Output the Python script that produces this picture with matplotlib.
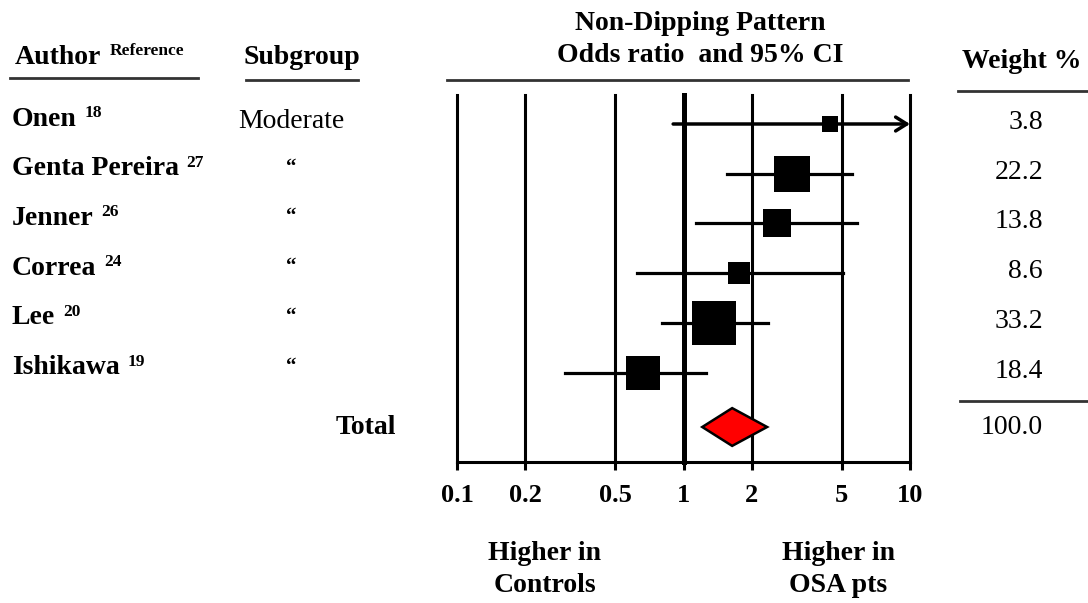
import numpy as np
import matplotlib
matplotlib.use('Agg')
from matplotlib import pyplot as plt
from matplotlib.transforms import blended_transform_factory
from matplotlib.patches import Polygon

# study data
authors = ['Onen', 'Genta Pereira', 'Jenner', 'Correa', 'Lee', 'Ishikawa']
refs = ['18', '27', '26', '24', '20', '19']
subgroups = ['Moderate', '\u201c', '\u201c', '\u201c', '\u201c', '\u201c']
odds = [4.45, 3.0, 2.58, 1.76, 1.37, 0.66]
ci_low = [0.90, 1.55, 1.13, 0.625, 0.80, 0.30]
ci_high = [12.0, 5.55, 5.85, 5.05, 2.37, 1.26]
weights = [3.8, 22.2, 13.8, 8.6, 33.2, 18.4]
total_or = 1.64
total_low = 1.21
total_high = 2.34
total_weight = 100.0
xticks = [0.1, 0.2, 0.5, 1, 2, 5, 10]
xticklabels = ['0.1', '0.2', '0.5', '1', '2', '5', '10']

W, H = 1088, 603
fig = plt.figure(figsize=(W / 100, H / 100), dpi=100)
plt.rcParams['font.family'] = ['Liberation Serif', 'DejaVu Serif']

# forest axes placed in pixels: x 457..910, y 95..462
ax = fig.add_axes([457 / W, (H - 462) / H, (910 - 457) / W, (462 - 95) / H])
ax.set_xscale('log')
ax.set_xlim(0.1, 10)
row0, step = 124.0, 49.7
ax.set_ylim((462 - row0) / step, (95 - row0) / step)
for s in ['top', 'left', 'right']:
    ax.spines[s].set_visible(False)
ax.spines['bottom'].set_linewidth(2.2)
ax.set_yticks([])
ax.set_xticks(xticks)
ax.set_xticklabels(xticklabels, fontsize=19, fontweight='bold')
ax.minorticks_off()
ax.tick_params(axis='x', direction='out', length=6, width=2.2, pad=10)
for v in xticks:
    ax.axvline(v, color='black', lw=3.6 if v == 1 else 2.2, zorder=1, clip_on=False)

# per-study squares and CI lines
for i in range(len(authors)):
    if ci_high[i] > 10:
        ax.annotate('', xy=(10, i), xytext=(ci_low[i], i),
                    arrowprops=dict(arrowstyle='->,head_length=0.8,head_width=0.5',
                                    lw=2.5, color='black', shrinkA=0, shrinkB=0),
                    zorder=2, annotation_clip=False)
    else:
        ax.plot([ci_low[i], ci_high[i]], [i, i], color='black', lw=2.3, zorder=2)
    side = 7.8 * np.sqrt(weights[i])
    ax.plot(odds[i], i, marker='s', color='black', markersize=side * 0.72,
            markeredgewidth=0, zorder=3)

total_row = (427 - row0) / step
dh = 0.38
diamond = Polygon([[total_low, total_row], [total_or, total_row - dh],
                   [total_high, total_row], [total_or, total_row + dh]],
                  closed=True, facecolor='red', edgecolor='black', lw=1.8, zorder=3)
ax.add_patch(diamond)

# text columns
tr = blended_transform_factory(fig.transFigure, ax.transData)
fs = 20
for i in range(len(authors)):
    t = fig.text(12 / W, i - 0.1, authors[i], transform=tr, fontsize=fs,
                 fontweight='bold', va='center', ha='left')
    ax.annotate(refs[i], xy=(1, 0.42), xycoords=t, xytext=(5.5, 0),
                textcoords='offset points', fontsize=12.5, fontweight='bold',
                va='bottom', ha='left', annotation_clip=False)
    if subgroups[i] == 'Moderate':
        fig.text(291 / W, i - 0.06, subgroups[i], transform=tr, fontsize=fs,
                 va='center', ha='center')
    else:
        fig.text(291 / W, i - 0.12, subgroups[i], transform=tr, fontsize=15,
                 fontweight='bold', va='center', ha='center')
    fig.text(1043 / W, i - 0.03, '%.1f' % weights[i], transform=tr, fontsize=fs,
             va='center', ha='right')

fig.text(366 / W, total_row, 'Total', transform=tr, fontsize=fs,
         fontweight='bold', va='center', ha='center')
fig.text(1043 / W, total_row, '%.1f' % total_weight, transform=tr, fontsize=fs,
         va='center', ha='right')

# headers
def px(x, y):
    return x / W, 1 - y / H

fig.text(*px(15, 57), 'Author', fontsize=fs, fontweight='bold', va='center', ha='left')
fig.text(*px(110, 51), 'Reference', fontsize=12.5, fontweight='bold', va='center', ha='left')
fig.text(*px(302, 57), 'Subgroup', fontsize=fs, fontweight='bold', va='center', ha='center')
fig.text(*px(700, 23), 'Non-Dipping Pattern', fontsize=fs, fontweight='bold',
         va='center', ha='center')
fig.text(*px(700, 56), 'Odds ratio  and 95% CI', fontsize=fs, fontweight='bold',
         va='center', ha='center')
fig.text(*px(962, 62), 'Weight %', fontsize=fs, fontweight='bold', va='center', ha='left')
fig.text(*px(545, 553), 'Higher in', fontsize=fs, fontweight='bold', va='center', ha='center')
fig.text(*px(545, 585), 'Controls', fontsize=fs, fontweight='bold', va='center', ha='center')
fig.text(*px(838, 553), 'Higher in', fontsize=fs, fontweight='bold', va='center', ha='center')
fig.text(*px(838, 585), 'OSA pts', fontsize=fs, fontweight='bold', va='center', ha='center')

# rules
def hline(x0, x1, y, lw=2.0):
    fig.add_artist(plt.Line2D([x0 / W, x1 / W], [1 - y / H, 1 - y / H],
                              color='#333333', lw=lw))

hline(10, 198, 78)
hline(246, 358, 80)
hline(447, 908, 80)
hline(958, 1088, 91)
hline(960, 1088, 401)

fig.savefig('out.png', dpi=100)
